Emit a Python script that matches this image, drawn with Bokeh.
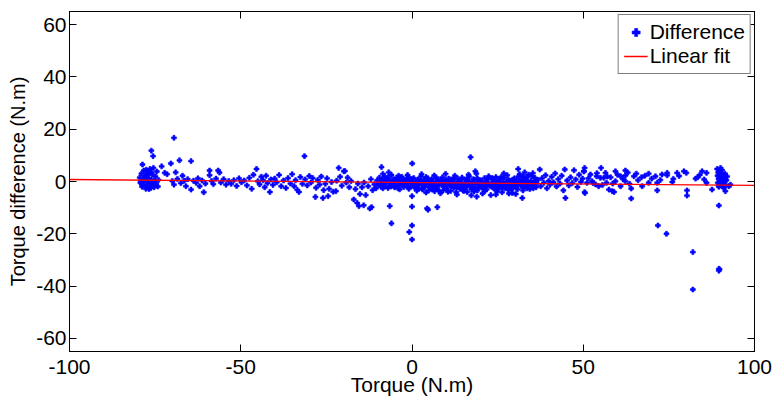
from bokeh.plotting import figure
from bokeh.models import Range1d, FixedTicker, LinearAxis, Legend, LegendItem, ColumnDataSource
from bokeh.embed import file_html
from bokeh.resources import INLINE

# ---------------- data ----------------
x_ticks = [-100, -50, 0, 50, 100]
y_ticks = [-60, -40, -20, 0, 20, 40, 60]
x_tick_labels = ["-100", "-50", "0", "50", "100"]
y_tick_labels = ["-60", "-40", "-20", "0", "20", "40", "60"]

# linear fit end points
fit_x = [-100, 100]
fit_y = [0.76, -1.5]

# cluster at the left end (~ -79 .. -74 N.m)
left_cluster = [(-79.5, 1.5), (-79.3, -0.5), (-79, 3), (-78.8, -2), (-78.7, 6.5), (-78.5, 0.5),
                (-78.3, 4.2), (-78.1, -1.2), (-77.9, 2.2), (-77.7, -2.8), (-77.5, 0.1), (-77.3, 3.5),
                (-77.1, -1.6), (-76.9, 1.2), (-76.7, -0.4), (-76.5, 4.8), (-76.3, -2.5), (-76.1, 11.8),
                (-76.1, 0.8), (-75.9, 2.8), (-75.7, -1), (-75.6, 9.7), (-75.5, 5.2), (-75.3, -2.2),
                (-75.1, 0.3), (-74.9, 1.9), (-74.7, -0.8), (-74.5, 3.8), (-74.2, -1.9), (-74, 0.6),
                (-77.2, -2.2), (-78, 1.7), (-76.8, -2.9), (-77.6, 4.5), (-76.2, 3.6), (-75.8, -1.7),
                (-78.9, -1), (-77, 2.6), (-76.4, -1.3), (-79.2, 0.2)]

# sparse points between -74 and -8 N.m
left_sparse = [(-73.1, 5.8), (-72.2, 3.3), (-71.5, 2.8), (-70.4, 6.9), (-69.5, 16.7), (-70, 0.2),
               (-69.5, -1.2), (-69, 3.5), (-68.5, 1), (-67.9, 8.1), (-67.5, -0.6), (-67, 2.2),
               (-66.5, 0.3), (-66, -1.8), (-65.5, 0.9), (-64.5, 7.8), (-64.5, -3.1), (-63.8, 0.3),
               (-63, -0.5), (-62.5, 1.2), (-62, -1.8), (-61.3, 0.4), (-60.8, -4.1), (-60.3, -0.8),
               (-59.1, 4.2), (-59.1, 2.4), (-58.5, 0.2), (-58, -1), (-57.2, 1.1), (-56.6, 4.2),
               (-56.2, 3.4), (-55.8, -0.4), (-55, 0.9), (-54.3, -1.2), (-53.5, 0.2), (-52.8, -0.9),
               (-52, 0.5), (-51.2, -1.7), (-50.5, 1.2), (-49.8, -0.3), (-49, 0.4), (-48.2, -1.5),
               (-47.5, 1.4), (-46.8, -2.8), (-46.3, 2.6), (-45.4, 4.8), (-45, 0.1), (-44.5, -1.1),
               (-44, 1.8), (-43.5, 0.5), (-43, -2.2), (-42.6, 2.2), (-42.2, -0.6), (-41.5, -4),
               (-41.2, 0.8), (-40.6, -1.3), (-40.1, 1.1), (-39.5, -0.3), (-38.8, 2.5), (-38.2, -1.8),
               (-37.5, 0.4), (-36.8, -2.5), (-36.2, 1.3), (-35.5, -0.8), (-35, 2.8), (-34.4, -1.8),
               (-34, 0.5), (-33.5, -3.2), (-33, -4), (-32.6, 1.7), (-32, -0.9), (-31.4, 9.7),
               (-31.2, 0.8), (-30.6, -1.5), (-30, 2.1), (-29.5, -0.4), (-29, 1.3), (-28.2, -5.9),
               (-28, -2.4), (-27.5, 0.6), (-27, -1.2), (-26.5, 1.9), (-26, -6.3), (-25.8, -3.3),
               (-25.3, -0.9), (-24.5, -5.6), (-24.8, 1.2), (-24.2, -2.8), (-23.5, -0.2), (-23, -3.9),
               (-22.2, -3.7), (-22, 0.3), (-21.4, 5.2), (-21, 1.8), (-20.5, -1.6), (-19.9, 3.9),
               (-19.6, 4), (-19.2, -0.4), (-18.8, 1.5), (-18.3, -2.2), (-17.8, 0.2), (-17, -6.9),
               (-16, -8.2), (-15.5, -9.4), (-16.5, -2.9), (-15.8, -0.8), (-15.2, -4.8), (-14.6, -2.2),
               (-14.1, -9.1), (-14, -0.4), (-13.5, -5.2), (-12.8, -1.8), (-12.3, -10.3), (-11.8, -9.8),
               (-12, 0.9), (-11.5, -3.3), (-11, -1.1), (-10.5, -2.6), (-10.2, 0.4), (-9.8, -0.8),
               (-8.9, 5.5), (-8.5, 2.9)]

# dense band between -10 and 36 N.m
dense_band = [(-9.5, 1.5), (-9.2, -0.5), (-9, -2), (-8.6, 0.8), (-8.3, -1.2), (-8, 2),
              (-7.6, -0.3), (-7.2, 1.2), (-7, -2.5), (-6.6, 0.2), (-6.3, -1.5), (-6, 2.5), (-5.7, -0.8),
              (-5.4, 0.9), (-5.1, -2.2), (-4.8, -0.2), (-4.5, 1.4), (-4.2, -1.6), (-3.9, 0.3), (-3.6, -3),
              (-3.3, -0.9), (-3, 1.8), (-2.7, -0.4), (-2.4, -2.1), (-2.1, 0.6), (-1.8, -1.3), (-1.5, 1.1),
              (-1.2, -0.6), (-0.9, -2.8), (-0.6, 0.4), (-0.3, -1.7), (0.2, -0.9), (0.5, 1.3), (0.8, -2.4),
              (1.1, -0.2), (1.4, -3.5), (1.7, 0.8), (2, -1.4), (2.3, -0.4), (2.6, 1.9), (2.9, -2.6),
              (3.2, -0.8), (3.5, 0.5), (3.8, -1.9), (4.1, -4.2), (4.4, -0.3), (4.7, 1.2), (5, -2.2),
              (5.3, -1.1), (5.6, 0.3), (5.9, -3.1), (6.2, -0.6), (6.5, 2.3), (6.8, -1.6), (7.1, -0.1),
              (7.4, -2.9), (7.7, 0.9), (8, -1.3), (8.3, -4.5), (8.6, -0.5), (8.9, 1.6), (9.2, -2),
              (9.5, -0.8), (9.8, 0.6), (10.1, -2.7), (10.4, -1.2), (10.7, 1.1), (11, -0.3), (11.3, -3.6),
              (11.6, -1.7), (11.9, 0.4), (12.2, -2.4), (12.5, 2.2), (12.8, -0.9), (13.1, -5), (13.4, -1.4),
              (13.7, 0.2), (14, -2.8), (14.3, -0.6), (14.6, 1.5), (14.9, -3.3), (15.2, -1), (15.5, 0.7),
              (15.8, -2.1), (16.1, -4), (16.4, -0.4), (16.7, 1.9), (17, -1.8), (17.3, -5.3), (17.6, -0.7),
              (17.9, 0.9), (18.2, -2.6), (18.5, -1.2), (18.8, 3), (19.1, -3.4), (19.4, -0.2), (19.7, -1.6),
              (20, 0.5), (20.3, -2.3), (20.6, -4.6), (20.9, -0.9), (21.2, 1.3), (21.5, -1.9), (21.8, -3),
              (22.1, -0.3), (22.4, 2), (22.7, -1.5), (23, -5.2), (23.3, -0.8), (23.6, 0.6), (23.9, -2.7),
              (24.2, -1.1), (24.5, 1.7), (24.8, -3.8), (25.1, -0.5), (25.4, -2), (25.7, 0.9), (26, -1.3),
              (26.3, -4.1), (26.6, -0.2), (26.9, 1.4), (27.2, -2.5), (27.5, -0.9), (27.8, 2.4), (28.1, -3.2),
              (28.4, -1.4), (28.7, 0.3), (29, -2.1), (29.3, -4.4), (29.6, -0.6), (29.9, 1.2), (30.2, -1.7),
              (30.5, 0.4), (30.8, -3), (31.1, -0.9), (31.4, 2.8), (31.7, -1.3), (32, 0.9), (32.3, -2.3),
              (32.6, -0.4), (32.9, 3.5), (33.2, -1.8), (33.5, 1.6), (33.8, -0.7), (34.1, 2.6), (34.4, -2.9),
              (34.7, 0.2), (35, -1.1), (35.3, 3.2), (35.6, -0.4), (35.9, 1.4), (36.2, -2.2),
              (-8.8, 0.2), (-7.9, -1.8), (-6.9, 1.6), (-5.9, -0.1), (-4.9, -1.9), (-3.9, 2.2), (-2.9, -1.1),
              (-1.9, 0.1), (-0.9, 1.6), (0.1, -0.4), (1.1, -1.9), (2.1, 0.2), (3.1, -3.1), (4.1, 1.7),
              (5.1, -0.5), (6.1, -2.4), (7.1, 1.3), (8.1, -0.2), (9.1, -3.4), (10.1, 0.1), (11.1, -1.5),
              (12.1, 0.8), (13.1, -2.2), (14.1, -0.1), (15.1, -3.6), (16.1, 1), (17.1, -0.5), (18.1, -3.8),
              (19.1, 1.2), (20.1, -1.2), (21.1, -2.8), (22.1, 0.9), (23.1, -1.9), (24.1, 0.1), (25.1, -3),
              (26.1, 1.8), (27.1, -1.1), (28.1, 0.7), (29.1, -3), (30.1, -0.3), (31.1, 1.9), (32.1, -1.2),
              (33.1, 0.4), (34.1, -1.5), (35.1, 1.9), (36.1, 0.3),
              (-8.2, -0.9), (-6.4, -0.8), (-4.3, 0.5), (-2.2, -0.9), (-0.4, -0.1), (1.6, -0.9), (3.6, -1.3),
              (5.6, -1.6), (7.6, -1.1), (9.6, -1.5), (11.6, -0.6), (13.6, -0.8), (15.6, -1.4), (17.6, -2.4),
              (19.6, -0.9), (21.6, -0.4), (23.6, -1.3), (25.6, -1.7), (27.6, -0.3), (29.6, -1.4), (31.6, -0.1),
              (33.6, -2.6), (35.6, -1.5), (6.6, -3.7), (12.9, -4.1), (18.9, -5.8), (24.5, -5), (30.3, -4.8),
              (2.8, 2.8), (9.8, 2.9), (16.5, 2.6), (26.8, 3.1), (32.4, 2), (-1.3, 2.5), (-6.8, 3.5),
              (-9.7, -1.4), (-8.5, -2.6), (-7.4, 0.6), (-6.1, -1.9), (-5.2, 0.5), (-4.1, -2.6), (-3.1, 0.9),
              (-2.3, -1.5), (-1.1, -2.2), (-0.1, 0.9), (0.9, -1.2), (1.9, -2.8), (2.7, 0.4), (3.9, -0.3),
              (4.9, -3.4), (5.8, 0.9), (6.9, -2.2), (7.9, -3.6), (8.7, 0.3), (9.4, -1), (10.5, -3.9),
              (11.4, 0.8), (12.4, -1.6), (13.3, 1.2), (14.4, -1.9), (15.4, -2.6), (16.3, 0.3), (17.3, -3),
              (18.3, 0.6), (19.3, -2.4), (20.4, -0.1), (21.3, -3.6), (22.3, -1.1), (23.4, 1.3), (24.4, -2.2),
              (25.3, 0.5), (26.4, -2.6), (27.3, -1.7), (28.3, -4.6), (29.4, 0.7), (30.4, -2.3), (31.3, -0.5),
              (32.4, -3.4), (33.3, 0.9), (34.3, -0.4), (35.4, -2.6), (36.4, -0.8)]

# outliers around zero torque and inside the band
centre_outliers = [(-6.5, -9.4), (-6, -16), (0, -5.6), (0, -9.6), (0, -16.8), (-0.8, -19.3),
                   (0, -22.2), (0.06, 6.9), (4.4, -10.3), (4.7, -10.8), (7.4, -9.8), (17.1, 9.3),
                   (18.5, 3.9), (32.2, -6.3), (31, 4.8)]

# moderately dense part between 36 and 50 N.m
mid_right = [(36.8, 0.6), (37.3, 4.6), (37.6, -1.8), (38, 1.3), (38.5, -0.5), (39, 2.4), (39.4, -2.6),
             (39.9, 0.2), (40.3, -1.2), (40.8, 1.8), (41.3, -0.3), (41.8, 3.1), (42.2, -1.9), (42.7, 0.9),
             (43.2, -0.8), (43.7, 2.2), (44.2, -3.4), (44.6, 4.6), (44.8, -6.3), (45.3, 0.4), (45.8, -1.5),
             (46.3, 1.6), (46.8, -0.6), (47.3, 4.3), (47.8, 0.8), (48.3, -2.1), (48.8, 2.6), (49.3, -0.2),
             (49.8, 1.1), (50.5, -4.4), (50.2, 3.9), (50.4, 5.2)]

# sparse points between 50 and 88 N.m
right_sparse = [(50.4, -4.1), (55.2, 5.2), (64, -6.5), (71.6, -3.4), (80.3, -3.4), (80.3, -5.4),
                (87.6, -3.1), (84.7, 3.9), (86, 3.3), (86, -0.5), (82.8, 1.1), (83.4, 1.6), (79.4, 3.9),
                (80.1, 3.3), (77.4, 3.3), (76.3, 1), (74.5, 3.3), (74.5, 2.4), (73, 2.7), (71.1, 2),
                (71.6, -0.5), (69.1, 3), (69.1, -0.5), (67.2, -1.8), (67, 1.6), (65.5, 3), (64.8, 2),
                (64, -2.7), (62.3, 4.2), (62.3, 2.3), (62.3, 0.1), (60.9, 2), (60.9, -1.8), (59.4, 3.9),
                (59.4, 0.1), (58, 1.6), (58.5, -3.7), (59, -4), (57.5, -3.1), (56.5, 3.3), (56, 1.4),
                (56.8, -0.5), (55, 1.4), (54.5, -1.8), (53.9, 2), (53.6, -1.1), (52.1, 2.7), (52.6, 0.1),
                (51.1, -0.5), (50.2, 3.9), (51.5, 1.2), (52.9, -0.6), (54, 3.2), (55.6, -1.3), (57, 1.9),
                (58.6, -0.8), (60, 2.6), (61.6, 0.9), (63, 3.4), (63.5, -0.9), (66, 0.5), (68, 2.2),
                (70, 1.1), (72.5, 0.6), (76, -0.2), (78, 2.1), (84, 2.5), (85.3, 0.8)]

# cluster at the right end (~ 89 .. 93 N.m) and far outliers
right_cluster = [(89.1, 4.8), (89.2, 2.2), (89.3, -0.5), (89.4, 3.5), (89.5, 1), (89.6, -2), (89.7, 4),
                 (89.8, 0.2), (89.9, 2.8), (90, -1.2), (90.1, 5.2), (90.2, 1.6), (90.3, -0.3), (90.4, 3.2),
                 (90.5, -1.8), (90.6, 0.7), (90.7, 2.4), (90.8, -0.9), (90.9, 1.3), (91, -2.4), (91.2, 0.1),
                 (91.4, 3), (91.6, -1.4), (91.8, 0.5), (92, 1.9), (89.5, -1.5), (90, 3.9), (90.5, 4.4),
                 (91.5, -3.7), (93, -1.2), (92.5, -1.8), (89.6, -9.2), (89.6, -33.4), (89.6, -34.1),
                 (89.8, -33.6)]
far_outliers = [(71.8, -16.8), (74.3, -20), (82, -27), (82, -41.3)]

groups = [left_cluster, left_sparse, dense_band, centre_outliers, mid_right,
          right_sparse, right_cluster, far_outliers]
diff_x = [pt[0] for g in groups for pt in g]
diff_y = [pt[1] for g in groups for pt in g]

# ---------------- figure ----------------
FONT = "Liberation Sans"

p = figure(width=773, height=398, output_backend="svg", toolbar_location=None,
           x_range=Range1d(-100, 100), y_range=Range1d(-65, 65),
           min_border_left=69, min_border_right=19, min_border_top=11, min_border_bottom=47)
p.background_fill_color = "white"
p.border_fill_color = "white"
p.grid.visible = False
p.outline_line_color = "black"
p.outline_line_width = 1

src = ColumnDataSource(dict(x=diff_x, y=diff_y))
sc = p.scatter("x", "y", source=src, marker="plus", size=5, line_width=0.6,
               line_color="#0000ff", fill_color="#0000ff")
ln = p.line(fit_x, fit_y, line_color="#ff0000", line_width=1.3)


def style_axis(ax, ticks, labels, show_labels):
    ax.ticker = FixedTicker(ticks=ticks, minor_ticks=[])
    ax.major_tick_in = 7
    ax.major_tick_out = 0
    ax.minor_tick_in = 0
    ax.minor_tick_out = 0
    ax.major_tick_line_color = "black"
    ax.axis_line_color = "black"
    ax.major_label_text_font = FONT
    ax.major_label_text_color = "black"
    if show_labels:
        ax.major_label_overrides = {t: l for t, l in zip(ticks, labels)}
        ax.major_label_text_font_size = "21px"
    else:
        ax.major_label_overrides = {t: "" for t in ticks}
        ax.major_label_text_font_size = "1px"
        ax.major_label_standoff = 0


style_axis(p.xaxis[0], x_ticks, x_tick_labels, True)
style_axis(p.yaxis[0], y_ticks, y_tick_labels, True)
p.xaxis[0].major_label_standoff = 8
p.yaxis[0].major_label_standoff = 3

p.xaxis[0].axis_label = "Torque (N.m)"
p.yaxis[0].axis_label = "Torque difference (N.m)"
for ax, fs in ((p.xaxis[0], "21px"), (p.yaxis[0], "20px")):
    ax.axis_label_text_font = FONT
    ax.axis_label_text_font_size = fs
    ax.axis_label_text_font_style = "normal"
    ax.axis_label_text_color = "black"
p.xaxis[0].axis_label_standoff = -4
p.yaxis[0].axis_label_standoff = 4

right_ax = LinearAxis()
style_axis(right_ax, y_ticks, y_tick_labels, False)
p.add_layout(right_ax, "right")
top_ax = LinearAxis()
style_axis(top_ax, x_ticks, x_tick_labels, False)
p.add_layout(top_ax, "above")

legend = Legend(items=[LegendItem(label="Difference", renderers=[sc]),
                       LegendItem(label="Linear fit", renderers=[ln])],
                location="top_right")
legend.margin = 3
legend.padding = 5
legend.spacing = 0
legend.glyph_width = 24
legend.label_standoff = 2
legend.label_text_font = FONT
legend.label_text_font_size = "21px"
legend.label_text_color = "black"
legend.border_line_color = "black"
legend.border_line_width = 1
legend.background_fill_color = "white"
legend.background_fill_alpha = 1
p.add_layout(legend)

open("out.html", "w").write(file_html(p, INLINE))
